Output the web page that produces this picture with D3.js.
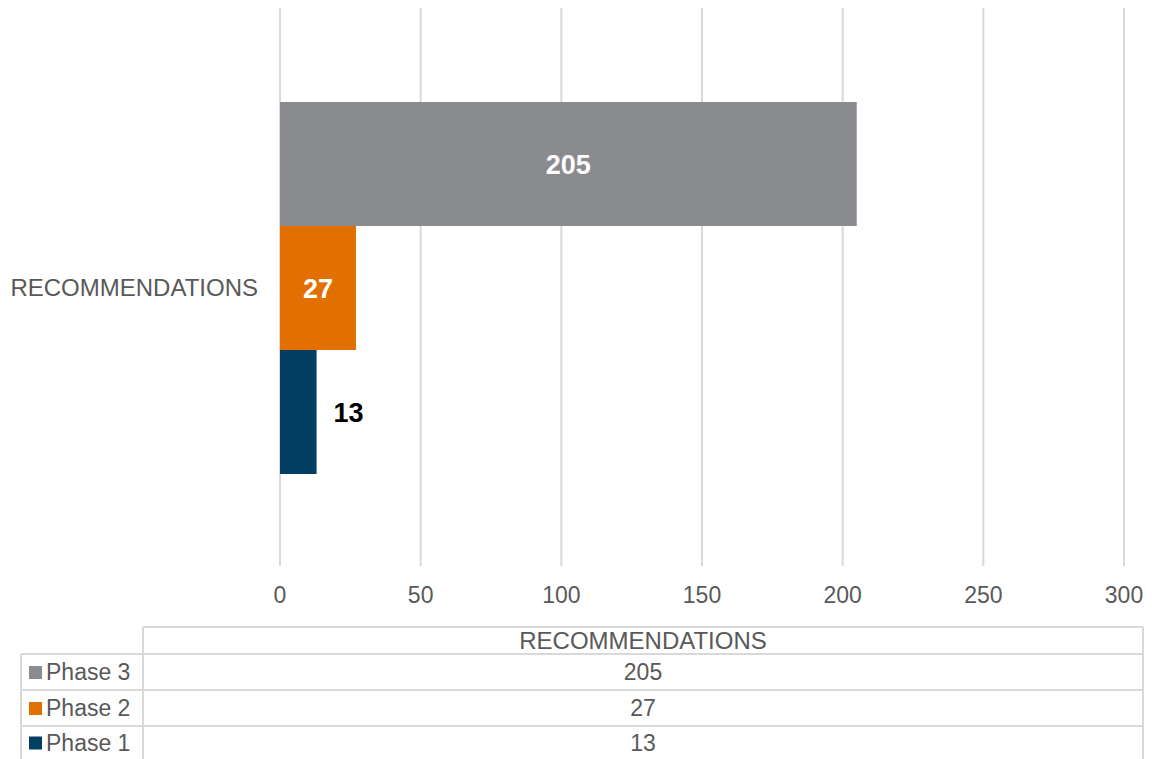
<!DOCTYPE html>
<html>
<head>
<meta charset="utf-8">
<script src="https://cdn.jsdelivr.net/npm/d3@7"></script>
<style>
  body { margin: 0; background: #fff; }
  svg { font-family: "Liberation Sans", Arial, sans-serif; }
</style>
</head>
<body>
<svg id="chart" width="1152" height="759"></svg>
<script>
const categories = ["RECOMMENDATIONS"];
const seriesNames = ["Phase 3", "Phase 2", "Phase 1"];
const seriesValues = [205, 27, 13];
const seriesColors = ["#898b8e", "#e27000", "#033f63"];
const ticks = [0, 50, 100, 150, 200, 250, 300];

const svg = d3.select("#chart");
const x = d3.scaleLinear().domain([0, 300]).range([280, 1124]);
const y = d3.scaleBand().domain(seriesNames).range([102, 474]);

// gridlines
svg.selectAll(".grid")
  .data(ticks)
  .enter()
  .append("line")
  .attr("x1", d => x(d)).attr("x2", d => x(d))
  .attr("y1", 8).attr("y2", 566)
  .attr("stroke", "#d9d9d9")
  .attr("stroke-width", 2);

// tick labels
svg.selectAll(".tick-label")
  .data(ticks)
  .enter()
  .append("text")
  .attr("x", d => x(d))
  .attr("y", 603)
  .attr("text-anchor", "middle")
  .attr("fill", "#595959")
  .style("font-size", "23px")
  .text(d => d);

// category label
svg.append("text")
  .attr("x", 258).attr("y", 296)
  .attr("text-anchor", "end")
  .attr("fill", "#595959")
  .style("font-size", "24px")
  .text(categories[0]);

// bars
svg.selectAll(".bar")
  .data(seriesNames)
  .enter()
  .append("rect")
  .attr("x", x(0))
  .attr("y", d => y(d))
  .attr("width", (d, i) => x(seriesValues[i]) - x(0))
  .attr("height", y.bandwidth())
  .attr("fill", (d, i) => seriesColors[i]);

// value labels
svg.selectAll(".val")
  .data(seriesNames)
  .enter()
  .append("text")
  .attr("x", (d, i) => {
    const w = x(seriesValues[i]) - x(0);
    return w > 60 ? (x(0) + x(seriesValues[i])) / 2 : x(seriesValues[i]) + 32;
  })
  .attr("y", d => y(d) + y.bandwidth() / 2 + 10)
  .attr("text-anchor", "middle")
  .attr("fill", (d, i) => (x(seriesValues[i]) - x(0)) > 60 ? "#fff" : "#000")
  .style("font-size", "27px")
  .style("font-weight", "bold")
  .text((d, i) => seriesValues[i]);

// data table
const tbl = svg.append("g");
const lineColor = "#d9d9d9";
const colLeft = 21, colMid = 143, colRight = 1143;
const rowTops = [627, 654, 690, 726];
const rowBottom = 759;

function hline(x1, x2, yy) {
  tbl.append("line").attr("x1", x1).attr("x2", x2).attr("y1", yy).attr("y2", yy)
    .attr("stroke", lineColor).attr("stroke-width", 2);
}
function vline(xx, y1, y2) {
  tbl.append("line").attr("x1", xx).attr("x2", xx).attr("y1", y1).attr("y2", y2)
    .attr("stroke", lineColor).attr("stroke-width", 2);
}
hline(colMid, colRight, rowTops[0]);
hline(colLeft, colRight, rowTops[1]);
hline(colLeft, colRight, rowTops[2]);
hline(colLeft, colRight, rowTops[3]);
vline(colMid, rowTops[0], rowBottom);
vline(colRight, rowTops[0], rowBottom);
vline(colLeft, rowTops[1], rowBottom);

tbl.append("text")
  .attr("x", (colMid + colRight) / 2).attr("y", rowTops[0] + 22)
  .attr("text-anchor", "middle").attr("fill", "#595959")
  .style("font-size", "24px")
  .text(categories[0]);

const rowY = [rowTops[1], rowTops[2], rowTops[3]];
const rowH = [36, 36, 33];
seriesNames.forEach((name, i) => {
  const cy = rowY[i] + rowH[i] / 2;
  tbl.append("rect")
    .attr("x", 29).attr("y", cy - 6)
    .attr("width", 13).attr("height", 13)
    .attr("fill", seriesColors[i]);
  tbl.append("text")
    .attr("x", 46).attr("y", cy + 8)
    .attr("fill", "#595959")
    .style("font-size", "23px")
    .text(name);
  tbl.append("text")
    .attr("x", (colMid + colRight) / 2).attr("y", cy + 8)
    .attr("text-anchor", "middle").attr("fill", "#595959")
    .style("font-size", "23px")
    .text(seriesValues[i]);
});
</script>
</body>
</html>
